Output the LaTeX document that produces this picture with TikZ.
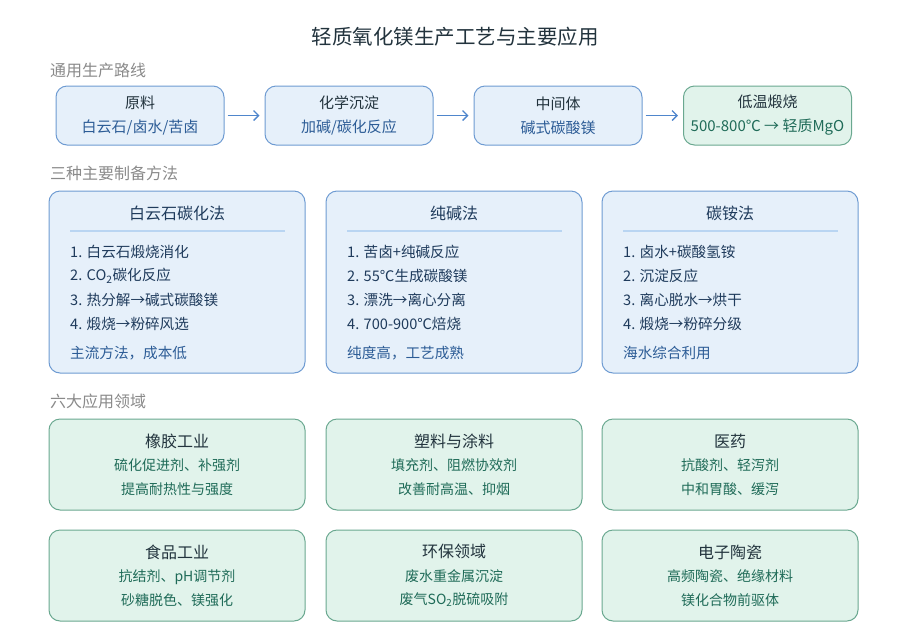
\documentclass[tikz,border=0pt]{standalone}
\usepackage{fontspec}
\setmainfont{Noto Sans CJK SC}
\usepackage{tikz}
\usetikzlibrary{positioning, arrows.meta}

\definecolor{blueFill}{HTML}{E6F0FA}
\definecolor{blueLine}{HTML}{6E9BD2}
\definecolor{arrowLine}{HTML}{4F86CC}
\definecolor{blueText}{HTML}{2C5C96}
\definecolor{navyText}{HTML}{1F3B5C}
\definecolor{sepLine}{HTML}{B9D5F2}
\definecolor{greenFill}{HTML}{E1F3EB}
\definecolor{greenLine}{HTML}{6AA890}
\definecolor{greenText}{HTML}{1F6B58}
\definecolor{darkText}{HTML}{22333D}
\definecolor{grayText}{HTML}{8A8A8A}

\begin{document}
\begin{tikzpicture}[x=1pt, y=-1pt,
    flowbox/.style={shape=rectangle, rounded corners=11pt, draw=blueLine, fill=blueFill, line width=1pt,
        minimum width=168pt, minimum height=59pt, align=center, text=darkText,
        font=\fontsize{15}{24}\selectfont},
    hotbox/.style={flowbox, draw=greenLine, fill=greenFill},
    methodbox/.style={shape=rectangle, rounded corners=11pt, draw=blueLine, fill=blueFill, line width=1pt,
        minimum width=256pt, minimum height=182pt},
    usebox/.style={shape=rectangle, rounded corners=11pt, draw=greenLine, fill=greenFill, line width=1pt,
        minimum width=256pt, minimum height=91pt, align=center, text=darkText,
        font=\fontsize{14}{23.5}\selectfont},
    section/.style={anchor=west, text=grayText, font=\fontsize{16}{18}\selectfont, inner sep=0pt},
    item/.style={anchor=west, text=navyText, font=\fontsize{14.6}{16}\selectfont, inner sep=0pt},
    mtitle/.style={text=navyText, font=\fontsize{16}{18}\selectfont, inner sep=0pt},
    flow/.style={-{Straight Barb[length=5pt, width=10pt]}, draw=arrowLine, line width=1.3pt,
        shorten <=3pt, shorten >=5pt}]

    \useasboundingbox (0,0) rectangle (914,641);

    \node[font=\fontsize{20.5}{24}\selectfont, text=darkText] (title) at (455,37) {轻质氧化镁生产工艺与主要应用};

    % general route
    \node[section] (secA) at (50,70) {通用生产路线};
    \node[flowbox] (raw) at (140,115.5) {原料\\{\color{blueText}白云石/卤水/苦卤}};
    \node[flowbox] (chem) at (349,115.5) {化学沉淀\\{\color{blueText}加碱/碳化反应}};
    \node[flowbox] (mid) at (558,115.5) {中间体\\{\color{blueText}碱式碳酸镁}};
    \node[hotbox] (calc) at (767.5,115.5) {低温煅烧\\{\color{greenText}500-800℃ → 轻质MgO}};

    \draw[flow] (raw) -- (chem);
    \draw[flow] (chem) -- (mid);
    \draw[flow] (mid) -- (calc);

    % three methods
    \node[section] (secB) at (50,173) {三种主要制备方法};

    \node[methodbox] (dolo) at (177,282) {};
    \node[mtitle] (doloT) at (177,213) {白云石碳化法};
    \draw[sepLine, line width=1.2pt] (70,231) -- (285,231);
    \node[item] (dolo1) at (70,252) {1. 白云石煅烧消化};
    \node[item] (dolo2) at (70,276) {2. CO\textsubscript{2}碳化反应};
    \node[item] (dolo3) at (70,300) {3. 热分解→碱式碳酸镁};
    \node[item] (dolo4) at (70,324) {4. 煅烧→粉碎风选};
    \node[item, text=blueText] (doloN) at (70,353) {主流方法，成本低};

    \node[methodbox] (soda) at (454,282) {};
    \node[mtitle] (sodaT) at (454,213) {纯碱法};
    \draw[sepLine, line width=1.2pt] (347,231) -- (562,231);
    \node[item] (soda1) at (347,252) {1. 苦卤+纯碱反应};
    \node[item] (soda2) at (347,276) {2. 55℃生成碳酸镁};
    \node[item] (soda3) at (347,300) {3. 漂洗→离心分离};
    \node[item] (soda4) at (347,324) {4. 700-900℃焙烧};
    \node[item, text=blueText] (sodaN) at (347,353) {纯度高，工艺成熟};

    \node[methodbox] (ammo) at (730,282) {};
    \node[mtitle] (ammoT) at (730,213) {碳铵法};
    \draw[sepLine, line width=1.2pt] (623,231) -- (838,231);
    \node[item] (ammo1) at (623,252) {1. 卤水+碳酸氢铵};
    \node[item] (ammo2) at (623,276) {2. 沉淀反应};
    \node[item] (ammo3) at (623,300) {3. 离心脱水→烘干};
    \node[item] (ammo4) at (623,324) {4. 煅烧→粉碎分级};
    \node[item, text=blueText] (ammoN) at (623,353) {海水综合利用};

    % six uses
    \node[section] (secC) at (50,401) {六大应用领域};

    \node[usebox] (rubber) at (177,464.5) {{\fontsize{16}{18}\selectfont 橡胶工业}\\{\color{greenText}硫化促进剂、补强剂}\\{\color{greenText}提高耐热性与强度}};
    \node[usebox] (plastic) at (454,464.5) {{\fontsize{16}{18}\selectfont 塑料与涂料}\\{\color{greenText}填充剂、阻燃协效剂}\\{\color{greenText}改善耐高温、抑烟}};
    \node[usebox] (pharma) at (730,464.5) {{\fontsize{16}{18}\selectfont 医药}\\{\color{greenText}抗酸剂、轻泻剂}\\{\color{greenText}中和胃酸、缓泻}};

    \node[usebox] (food) at (177,575.5) {{\fontsize{16}{18}\selectfont 食品工业}\\{\color{greenText}抗结剂、pH调节剂}\\{\color{greenText}砂糖脱色、镁强化}};
    \node[usebox] (envir) at (454,575.5) {{\fontsize{16}{18}\selectfont 环保领域}\\{\color{greenText}废水重金属沉淀}\\{\color{greenText}废气SO\textsubscript{2}脱硫吸附}};
    \node[usebox] (ceram) at (730,575.5) {{\fontsize{16}{18}\selectfont 电子陶瓷}\\{\color{greenText}高频陶瓷、绝缘材料}\\{\color{greenText}镁化合物前驱体}};

\end{tikzpicture}
\end{document}
